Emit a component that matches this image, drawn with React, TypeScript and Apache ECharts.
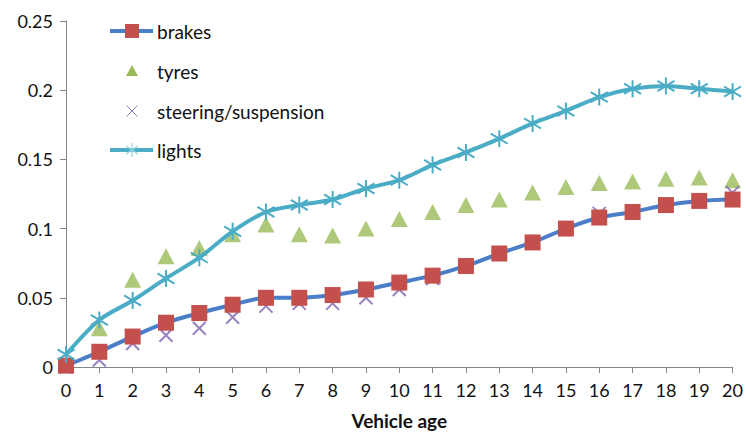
import React, { useEffect, useRef } from "react";
import * as echarts from "echarts";

const ages = [0, 1, 2, 3, 4, 5, 6, 7, 8, 9, 10, 11, 12, 13, 14, 15, 16, 17, 18, 19, 20];
const brakes = [0.001, 0.011, 0.022, 0.032, 0.039, 0.045, 0.05, 0.05, 0.052, 0.056, 0.061, 0.066, 0.073, 0.082, 0.09, 0.1, 0.108, 0.112, 0.117, 0.12, 0.121];
const tyres = [0.002, 0.028, 0.063, 0.08, 0.086, 0.096, 0.103, 0.096, 0.095, 0.1, 0.107, 0.112, 0.117, 0.121, 0.126, 0.13, 0.133, 0.134, 0.136, 0.137, 0.135];
const steering = [0.0, 0.005, 0.017, 0.023, 0.028, 0.036, 0.044, 0.046, 0.046, 0.05, 0.056, 0.064, 0.072, 0.082, 0.09, 0.1, 0.111, 0.113, 0.117, 0.12, 0.126];
const lights = [0.009, 0.034, 0.048, 0.064, 0.079, 0.098, 0.112, 0.117, 0.121, 0.129, 0.135, 0.146, 0.155, 0.165, 0.176, 0.185, 0.195, 0.201, 0.203, 0.201, 0.199];
const yTicks = [0, 0.05, 0.1, 0.15, 0.2, 0.25];
const legendNames = ["brakes", "tyres", "steering/suspension", "lights"];

const FONT = "Lato, 'Open Sans', sans-serif";
const STAR = "path://M10 0 L10 20 M1 4 L19 16 M1 16 L19 4";
const CROSS = "path://M0 0 L10 10 M10 0 L0 10";

const C_BLUE = "#4A7EC8";
const C_RED = "#C4504D";
const C_GREEN = "#9BBB59";
const C_PURPLE = "#7F63B0";
const C_CYAN = "#4BACC6";

const pairs = (vals: number[]) => ages.map((a, i) => [a, vals[i]]);

function legendGraphic() {
  const ys = [31, 71, 111, 150];
  const mx = 132;
  const els: any[] = [];
  // brakes
  els.push({ type: "line", shape: { x1: 110, y1: ys[0], x2: 153, y2: ys[0] }, style: { stroke: C_BLUE, lineWidth: 4 } });
  els.push({ type: "rect", shape: { x: mx - 7, y: ys[0] - 7, width: 14, height: 14 }, style: { fill: C_RED } });
  // tyres
  els.push({ type: "polygon", shape: { points: [[mx, ys[1] - 6], [mx + 6, ys[1] + 5], [mx - 6, ys[1] + 5]] }, style: { fill: C_GREEN } });
  // steering
  els.push({ type: "line", shape: { x1: mx - 5.5, y1: ys[2] - 5.5, x2: mx + 5.5, y2: ys[2] + 5.5 }, style: { stroke: "#8C80BC", lineWidth: 1 } });
  els.push({ type: "line", shape: { x1: mx + 5.5, y1: ys[2] - 5.5, x2: mx - 5.5, y2: ys[2] + 5.5 }, style: { stroke: "#8C80BC", lineWidth: 1 } });
  // lights
  els.push({ type: "line", shape: { x1: 110, y1: ys[3], x2: 153, y2: ys[3] }, style: { stroke: C_CYAN, lineWidth: 4 } });
  els.push({ type: "line", shape: { x1: mx, y1: ys[3] - 7, x2: mx, y2: ys[3] + 7 }, style: { stroke: "#8FD3E4", lineWidth: 1.2 } });
  els.push({ type: "line", shape: { x1: mx - 6, y1: ys[3] - 4, x2: mx + 6, y2: ys[3] + 4 }, style: { stroke: "#8FD3E4", lineWidth: 1.2 } });
  els.push({ type: "line", shape: { x1: mx - 6, y1: ys[3] + 4, x2: mx + 6, y2: ys[3] - 4 }, style: { stroke: "#8FD3E4", lineWidth: 1.2 } });
  legendNames.forEach((n, i) => {
    els.push({
      type: "text",
      x: 157,
      y: ys[i],
      style: { text: n, fontFamily: FONT, fontSize: 19, fill: "#111", verticalAlign: "middle", align: "left" },
    });
  });
  return els;
}

export default function App() {
  const ref = useRef<HTMLDivElement>(null);
  useEffect(() => {
    if (!ref.current) return;
    const chart = echarts.init(ref.current, undefined, { renderer: "svg" });
    chart.setOption({
      animation: false,
      backgroundColor: "#ffffff",
      grid: { left: 66, right: 13, top: 21, bottom: 69, containLabel: false },
      graphic: legendGraphic(),
      xAxis: {
        type: "value",
        min: 0,
        max: 20,
        interval: 1,
        name: "Vehicle age",
        nameLocation: "middle",
        nameGap: 44,
        nameTextStyle: { fontFamily: FONT, fontSize: 19, fontWeight: "bold", color: "#111" },
        axisLine: { show: true, lineStyle: { color: "#868686", width: 1 } },
        axisTick: { show: true, length: 6, lineStyle: { color: "#868686" } },
        axisLabel: { fontFamily: FONT, fontSize: 18, color: "#111", margin: 14 },
        splitLine: { show: false },
      },
      yAxis: {
        type: "value",
        min: 0,
        max: 0.25,
        interval: 0.05,
        axisLine: { show: true, lineStyle: { color: "#868686", width: 1 } },
        axisTick: { show: true, length: 6, lineStyle: { color: "#868686" } },
        axisLabel: {
          fontFamily: FONT,
          fontSize: 18,
          color: "#111",
          margin: 13,
          formatter: (v: number) => {
            const t = yTicks.find((x) => Math.abs(x - v) < 1e-9);
            return String(t !== undefined ? t : v);
          },
        },
        splitLine: { show: false },
      },
      series: [
        {
          name: "brakes",
          type: "line",
          data: pairs(brakes),
          smooth: 0.3,
          symbol: "rect",
          symbolSize: 16,
          lineStyle: { color: C_BLUE, width: 4 },
          itemStyle: { color: C_RED, borderWidth: 0 },
        },
        {
          name: "tyres",
          type: "scatter",
          data: pairs(tyres),
          symbol: "triangle",
          symbolSize: [17, 16],
          itemStyle: { color: C_GREEN },
        },
        {
          name: "steering/suspension",
          type: "scatter",
          data: pairs(steering),
          symbol: CROSS,
          symbolSize: 13,
          itemStyle: { color: "none", borderColor: C_PURPLE, borderWidth: 2 },
        },
        {
          name: "lights",
          type: "line",
          data: pairs(lights),
          smooth: 0.3,
          symbol: STAR,
          symbolSize: 17,
          lineStyle: { color: C_CYAN, width: 4 },
          itemStyle: { color: "none", borderColor: C_CYAN, borderWidth: 2 },
        },
      ],
    });
    return () => chart.dispose();
  }, []);
  return <div ref={ref} style={{ width: 746, height: 436, position: "absolute", left: 0, top: 0 }} />;
}
